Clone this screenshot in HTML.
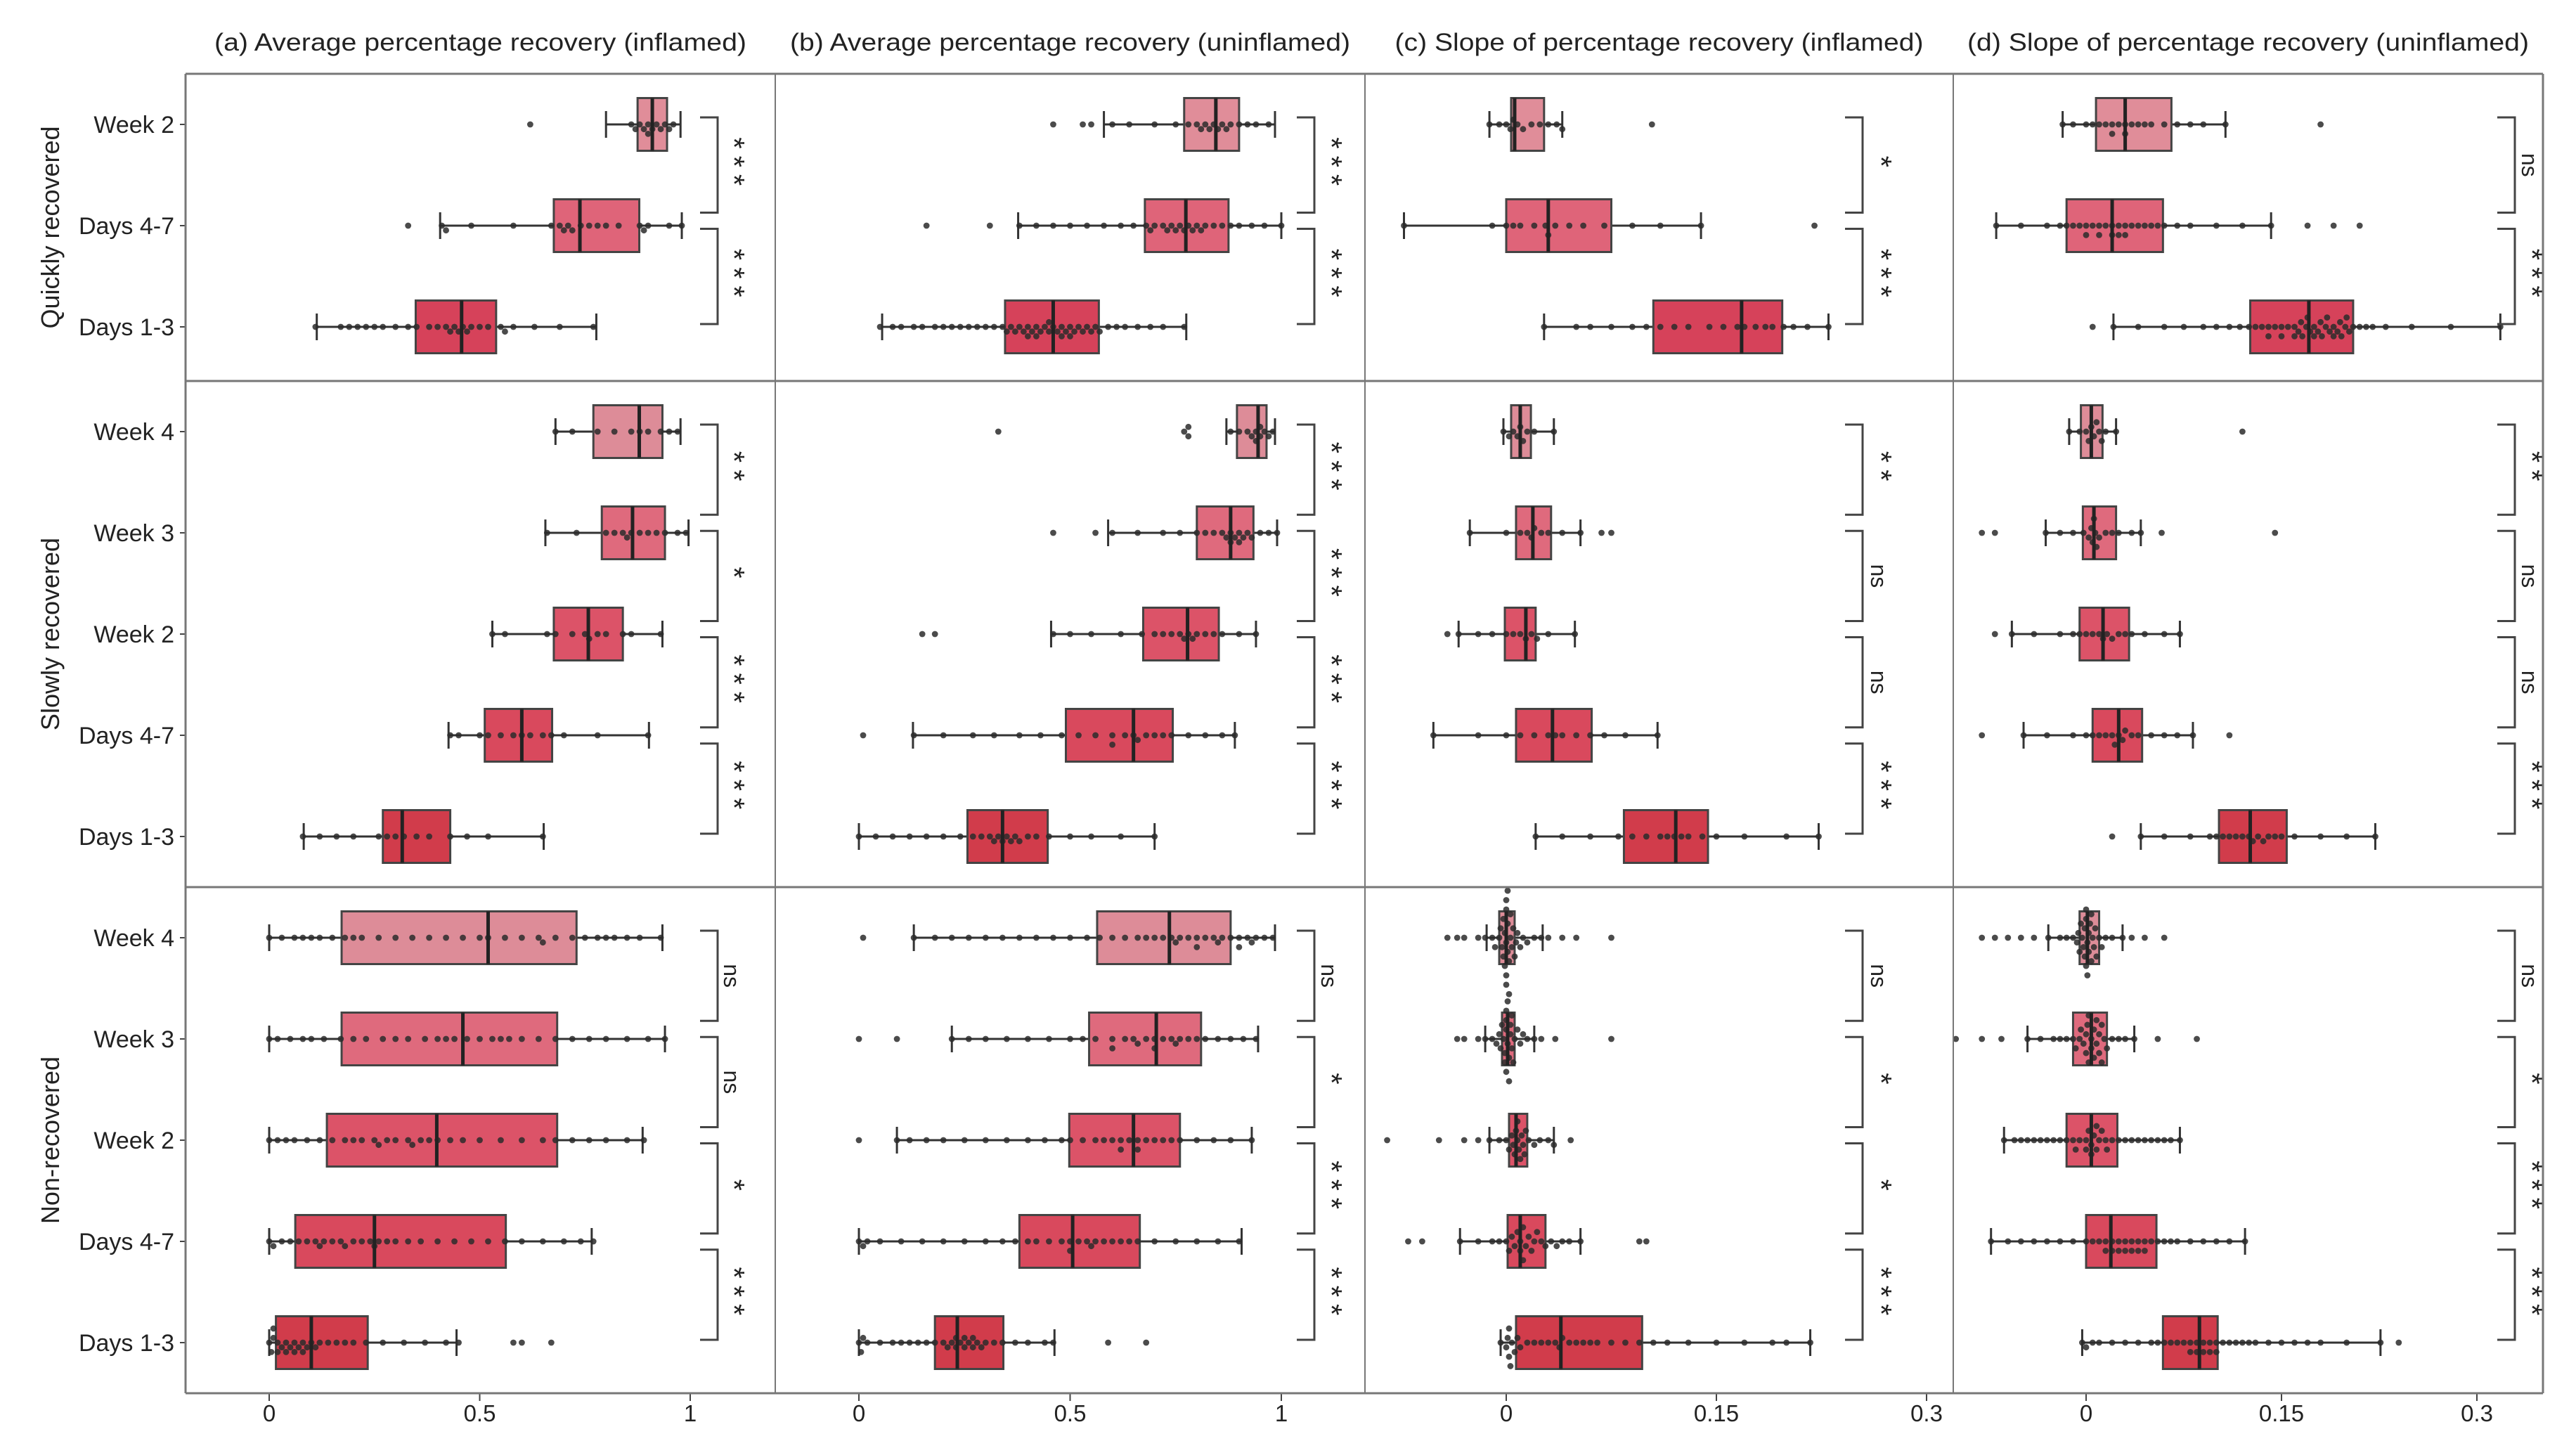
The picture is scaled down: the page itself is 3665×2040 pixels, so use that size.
<!DOCTYPE html>
<html><head><meta charset="utf-8"><style>
html,body{margin:0;padding:0;background:#fff;}
svg{display:block;font-family:"Liberation Sans",sans-serif;}
</style></head><body>
<svg id="chart" width="3665" height="2040" viewBox="0 0 3665 2040" xmlns="http://www.w3.org/2000/svg"></svg>
<script>
// ---- data ----
const panelTitles=["(a) Average percentage recovery (inflamed)","(b) Average percentage recovery (uninflamed)","(c) Slope of percentage recovery (inflamed)","(d) Slope of percentage recovery (uninflamed)"];
const groupNames=["Quickly recovered","Slowly recovered","Non-recovered"];
const quickRows=["Week 2","Days 4-7","Days 1-3"];
const slowRows=["Week 4","Week 3","Week 2","Days 4-7","Days 1-3"];
const nonRows=["Week 4","Week 3","Week 2","Days 4-7","Days 1-3"];
const tickValsAB=[0,0.5,1];
const tickLabelsAB=["0","0.5","1"];
const tickValsCD=[0,0.15,0.3];
const tickLabelsCD=["0","0.15","0.3"];
const sigA=[["***","***"],["**","*","***","***"],["ns","ns","*","***"]];
const sigB=[["***","***"],["***","***","***","***"],["ns","*","***","***"]];
const sigC=[["*","***"],["**","ns","ns","***"],["ns","*","*","***"]];
const sigD=[["ns","***"],["**","ns","ns","***"],["ns","*","***","***"]];
// box stats [lo,q1,median,q3,hi], 13 rows top to bottom
const statsA=[[0.80,0.875,0.91,0.945,0.977],[0.406,0.676,0.738,0.879,0.98],[0.113,0.348,0.457,0.539,0.777],
[0.68,0.77,0.879,0.934,0.977],[0.656,0.79,0.863,0.94,0.996],[0.53,0.676,0.758,0.84,0.934],[0.426,0.512,0.60,0.672,0.902],[0.082,0.27,0.316,0.43,0.652],
[0,0.172,0.52,0.73,0.934],[0,0.172,0.46,0.684,0.94],[0,0.137,0.398,0.684,0.887],[0,0.062,0.25,0.562,0.766],[0,0.016,0.10,0.234,0.445]];
const statsB=[[0.58,0.77,0.845,0.90,0.985],[0.377,0.677,0.774,0.875,1.0],[0.055,0.346,0.46,0.568,0.775],
[0.87,0.895,0.945,0.965,0.985],[0.59,0.80,0.88,0.934,0.99],[0.455,0.673,0.778,0.852,0.94],[0.128,0.49,0.65,0.743,0.89],[0.0,0.257,0.34,0.447,0.70],
[0.13,0.564,0.735,0.88,0.985],[0.22,0.545,0.704,0.81,0.945],[0.09,0.498,0.65,0.76,0.93],[0,0.38,0.506,0.665,0.906],[0,0.18,0.233,0.342,0.463]];
const statsC=[[-0.012,0.0035,0.006,0.027,0.04],[-0.073,0,0.03,0.075,0.139],[0.027,0.105,0.168,0.197,0.23],
[-0.002,0.0035,0.01,0.0176,0.034],[-0.026,0.007,0.019,0.032,0.053],[-0.034,-0.001,0.014,0.021,0.049],[-0.052,0.007,0.033,0.061,0.108],[0.021,0.084,0.121,0.144,0.223],
[-0.014,-0.005,0,0.006,0.026],[-0.015,-0.003,0.001,0.006,0.02],[-0.012,0.002,0.007,0.015,0.034],[-0.033,0.001,0.01,0.028,0.053],[-0.004,0.007,0.039,0.097,0.217]];
const statsD=[[-0.018,0.0076,0.03,0.0655,0.107],[-0.069,-0.015,0.02,0.059,0.142],[0.021,0.126,0.171,0.205,0.318],
[-0.013,-0.004,0.004,0.0126,0.023],[-0.031,-0.0025,0.006,0.023,0.042],[-0.057,-0.005,0.013,0.033,0.072],[-0.048,0.005,0.025,0.043,0.082],[0.042,0.102,0.126,0.154,0.222],
[-0.029,-0.005,0.001,0.01,0.028],[-0.045,-0.01,0.004,0.016,0.037],[-0.063,-0.015,0.004,0.024,0.072],[-0.073,0.0,0.019,0.054,0.122],[-0.003,0.059,0.087,0.101,0.226]];
// swarm points
const ptsA=[[0.62,0.86,0.87,0.89,0.9,0.91,0.92,0.93,0.94,0.95,0.96,0.9,0.88],
[0.33,0.41,0.42,0.48,0.58,0.67,0.69,0.7,0.72,0.76,0.78,0.8,0.83,0.88,0.89,0.9,0.95,0.98,0.71,0.74],
[0.11,0.17,0.19,0.21,0.23,0.25,0.27,0.3,0.33,0.35,0.38,0.4,0.42,0.43,0.45,0.46,0.48,0.5,0.52,0.55,0.56,0.58,0.63,0.69,0.77,0.44,0.47],
[0.68,0.72,0.78,0.82,0.86,0.88,0.9,0.93,0.95,0.97],
[0.66,0.73,0.8,0.82,0.84,0.85,0.86,0.88,0.9,0.92,0.94,0.97,0.99],
[0.53,0.56,0.66,0.68,0.72,0.75,0.76,0.78,0.8,0.84,0.86,0.93],
[0.43,0.45,0.5,0.52,0.55,0.58,0.6,0.62,0.65,0.67,0.7,0.78,0.9],
[0.08,0.12,0.16,0.2,0.26,0.28,0.3,0.32,0.35,0.38,0.43,0.47,0.52,0.65],
[0,0.03,0.06,0.08,0.1,0.12,0.15,0.18,0.22,0.26,0.3,0.34,0.38,0.42,0.46,0.5,0.52,0.56,0.6,0.64,0.68,0.72,0.75,0.78,0.8,0.82,0.85,0.88,0.93,0.2,0.65],
[0,0.02,0.05,0.08,0.1,0.13,0.17,0.2,0.23,0.27,0.3,0.33,0.37,0.4,0.44,0.47,0.5,0.53,0.57,0.6,0.64,0.68,0.72,0.76,0.8,0.85,0.9,0.94,0.42,0.55],
[0,0.02,0.04,0.06,0.09,0.12,0.15,0.18,0.2,0.22,0.25,0.28,0.3,0.33,0.36,0.38,0.4,0.43,0.46,0.5,0.55,0.6,0.65,0.68,0.72,0.76,0.8,0.85,0.89,0.26,0.34],
[0,0.01,0.03,0.05,0.07,0.09,0.11,0.13,0.15,0.17,0.2,0.22,0.24,0.26,0.28,0.3,0.33,0.36,0.4,0.44,0.48,0.52,0.56,0.6,0.65,0.7,0.74,0.77,0.12,0.18,0.25],
[0,0.005,0.01,0.02,0.03,0.04,0.05,0.06,0.07,0.08,0.09,0.1,0.11,0.12,0.14,0.16,0.18,0.2,0.23,0.27,0.32,0.37,0.42,0.45,0.58,0.6,0.67,0.01,0.02,0.04,0.06,0.08]];
const ptsB=[[0.46,0.53,0.55,0.6,0.64,0.7,0.75,0.78,0.8,0.82,0.84,0.85,0.86,0.87,0.88,0.9,0.92,0.94,0.97,0.83,0.81],
[0.16,0.31,0.38,0.42,0.46,0.5,0.54,0.58,0.62,0.65,0.68,0.7,0.72,0.74,0.76,0.77,0.78,0.8,0.82,0.84,0.86,0.88,0.9,0.93,0.96,1.0,0.73,0.75,0.79,0.81,0.69],
[0.05,0.08,0.1,0.13,0.15,0.18,0.2,0.22,0.24,0.26,0.28,0.3,0.32,0.34,0.35,0.36,0.37,0.38,0.39,0.4,0.41,0.42,0.43,0.44,0.45,0.46,0.47,0.48,0.49,0.5,0.51,0.52,0.53,0.54,0.55,0.56,0.57,0.59,0.61,0.63,0.66,0.69,0.72,0.77,0.4,0.45,0.5,0.42,0.48],
[0.33,0.77,0.78,0.78,0.88,0.9,0.92,0.93,0.94,0.95,0.96,0.97,0.98,0.95,0.94],
[0.46,0.56,0.6,0.66,0.72,0.76,0.8,0.82,0.84,0.86,0.87,0.88,0.89,0.9,0.91,0.92,0.93,0.95,0.97,0.99,0.88,0.9],
[0.15,0.18,0.46,0.5,0.55,0.62,0.67,0.7,0.72,0.74,0.76,0.78,0.8,0.82,0.84,0.86,0.9,0.94,0.77,0.79],
[0.01,0.13,0.2,0.27,0.32,0.38,0.43,0.48,0.52,0.56,0.6,0.63,0.66,0.68,0.7,0.72,0.74,0.78,0.82,0.86,0.89,0.65,0.6],
[0,0.04,0.08,0.12,0.16,0.2,0.24,0.27,0.29,0.31,0.33,0.34,0.35,0.36,0.38,0.4,0.42,0.45,0.5,0.55,0.62,0.7,0.32,0.37],
[0.01,0.13,0.18,0.22,0.26,0.3,0.34,0.38,0.42,0.46,0.5,0.54,0.57,0.6,0.63,0.66,0.68,0.7,0.72,0.74,0.76,0.78,0.8,0.82,0.84,0.86,0.88,0.9,0.92,0.94,0.96,0.98,0.75,0.8,0.85,0.9,0.93],
[0,0.09,0.22,0.26,0.3,0.35,0.4,0.45,0.5,0.53,0.56,0.6,0.63,0.66,0.68,0.7,0.72,0.74,0.76,0.78,0.8,0.82,0.85,0.88,0.91,0.94,0.7,0.65,0.75,0.6],
[0,0.09,0.12,0.16,0.2,0.25,0.3,0.35,0.4,0.44,0.48,0.5,0.53,0.56,0.58,0.6,0.62,0.64,0.66,0.68,0.7,0.72,0.74,0.76,0.8,0.84,0.88,0.93,0.62,0.66],
[0,0.01,0.02,0.05,0.1,0.15,0.2,0.25,0.3,0.34,0.37,0.4,0.42,0.45,0.48,0.5,0.52,0.54,0.56,0.58,0.6,0.62,0.64,0.66,0.7,0.75,0.8,0.85,0.9,0.5,0.55],
[0,0.005,0.01,0.02,0.05,0.08,0.1,0.12,0.14,0.16,0.18,0.2,0.21,0.22,0.23,0.24,0.25,0.26,0.27,0.28,0.29,0.3,0.32,0.34,0.37,0.4,0.44,0.46,0.59,0.68,0.23,0.25,0.27]];
const ptsC=[[-0.012,-0.005,0,0.003,0.005,0.008,0.012,0.018,0.024,0.03,0.036,0.04,0.104],
[-0.073,-0.01,0,0.005,0.01,0.02,0.028,0.03,0.035,0.045,0.055,0.07,0.09,0.11,0.139,0.22],
[0.027,0.05,0.06,0.075,0.09,0.1,0.11,0.12,0.13,0.145,0.155,0.165,0.17,0.178,0.185,0.19,0.198,0.205,0.215,0.23],
[-0.002,0.002,0.005,0.008,0.01,0.012,0.015,0.02,0.034],
[-0.026,0.0,0.01,0.015,0.018,0.02,0.025,0.03,0.04,0.053,0.068,0.075],
[-0.042,-0.034,-0.02,-0.01,0,0.005,0.01,0.014,0.018,0.022,0.03,0.049],
[-0.052,-0.02,0,0.01,0.02,0.03,0.035,0.04,0.05,0.06,0.07,0.085,0.108],
[0.021,0.04,0.06,0.08,0.09,0.1,0.11,0.115,0.12,0.125,0.13,0.14,0.15,0.17,0.2,0.223],
[-0.042,-0.035,-0.03,-0.02,-0.015,-0.01,-0.008,-0.005,-0.004,-0.003,-0.002,-0.001,0,0,0,0.001,0.002,0.003,0.004,0.005,0.006,0.007,0.008,0.01,0.012,0.015,0.02,0.025,0.03,0.04,0.05,0.075,0,0.001,-0.001,0.002,-0.002,0.003,0.0,0.001],
[-0.035,-0.03,-0.02,-0.015,-0.01,-0.007,-0.005,-0.004,-0.003,-0.002,-0.001,0,0,0,0.001,0.002,0.003,0.004,0.005,0.006,0.008,0.01,0.012,0.015,0.02,0.025,0.035,0.075,0.001,0.002,0,0.003,-0.001,0.004],
[-0.085,-0.048,-0.03,-0.02,-0.012,-0.005,0,0.002,0.004,0.006,0.007,0.008,0.009,0.01,0.012,0.014,0.016,0.02,0.024,0.03,0.034,0.046,0.005,0.008,0.011,0.013],
[-0.07,-0.06,-0.033,-0.02,-0.01,-0.005,0,0.002,0.004,0.006,0.008,0.01,0.012,0.014,0.016,0.018,0.02,0.022,0.025,0.028,0.032,0.036,0.04,0.045,0.053,0.095,0.1,0.01,0.012],
[-0.004,0,0.001,0.002,0.004,0.006,0.008,0.01,0.015,0.02,0.025,0.03,0.035,0.038,0.04,0.045,0.05,0.055,0.06,0.065,0.075,0.085,0.095,0.105,0.115,0.13,0.15,0.17,0.19,0.2,0.217,0.002,0.003]];
const ptsD=[[-0.018,-0.01,0,0.005,0.01,0.015,0.02,0.025,0.03,0.035,0.04,0.045,0.05,0.06,0.07,0.08,0.09,0.107,0.18,0.03,0.02],
[-0.069,-0.05,-0.03,-0.02,-0.015,-0.01,-0.005,0,0.005,0.01,0.015,0.02,0.025,0.03,0.035,0.04,0.045,0.05,0.055,0.06,0.07,0.08,0.1,0.12,0.142,0.17,0.19,0.21,0.02,0.01,0.03,0.0,0.025],
[0.005,0.021,0.04,0.06,0.075,0.09,0.1,0.11,0.118,0.125,0.13,0.135,0.14,0.145,0.15,0.155,0.16,0.163,0.166,0.169,0.172,0.175,0.178,0.181,0.184,0.187,0.19,0.193,0.196,0.199,0.202,0.205,0.21,0.215,0.22,0.23,0.25,0.28,0.318,0.17,0.175,0.18,0.185,0.19,0.16,0.165,0.195,0.2,0.15,0.14],
[-0.013,-0.005,0,0.002,0.004,0.006,0.008,0.01,0.012,0.015,0.023,0.12],
[-0.08,-0.07,-0.031,-0.02,-0.01,-0.002,0.002,0.004,0.006,0.008,0.01,0.015,0.02,0.025,0.035,0.042,0.058,0.145,0.005,0.007],
[-0.07,-0.057,-0.04,-0.02,-0.01,-0.005,0,0.005,0.01,0.013,0.016,0.02,0.025,0.03,0.035,0.045,0.06,0.072],
[-0.08,-0.048,-0.03,-0.01,0,0.005,0.01,0.015,0.02,0.025,0.03,0.035,0.04,0.05,0.06,0.07,0.082,0.11,0.022,0.028],
[0.02,0.042,0.06,0.08,0.095,0.1,0.105,0.11,0.115,0.12,0.125,0.128,0.132,0.136,0.14,0.145,0.15,0.16,0.18,0.2,0.222],
[-0.08,-0.07,-0.06,-0.05,-0.04,-0.029,-0.02,-0.015,-0.01,-0.007,-0.005,-0.003,-0.001,0,0,0.001,0.002,0.003,0.004,0.005,0.006,0.008,0.01,0.012,0.015,0.02,0.028,0.035,0.045,0.06,0,0.001,-0.001,0.002,-0.002,0.004,-0.004,0.007,-0.006],
[-0.1,-0.08,-0.065,-0.045,-0.035,-0.025,-0.02,-0.015,-0.01,-0.005,-0.002,0,0.002,0.004,0.006,0.008,0.01,0.012,0.014,0.016,0.02,0.025,0.03,0.037,0.055,0.085,0.004,0.006,0,0.002,0.008,0.01,-0.004,-0.008,0.012,0.001],
[-0.063,-0.055,-0.05,-0.045,-0.04,-0.035,-0.03,-0.025,-0.02,-0.015,-0.01,-0.005,0,0.002,0.004,0.006,0.008,0.01,0.015,0.02,0.025,0.03,0.035,0.04,0.045,0.05,0.055,0.06,0.065,0.072,0.0,0.004,0.008,-0.008,0.012,0.016],
[-0.073,-0.06,-0.05,-0.04,-0.03,-0.02,-0.01,0,0.005,0.01,0.015,0.02,0.025,0.03,0.035,0.04,0.045,0.05,0.055,0.06,0.065,0.07,0.08,0.09,0.1,0.11,0.122,0.02,0.025,0.03,0.04,0.015,0.035,0.045],
[-0.003,0.0,0.005,0.01,0.02,0.03,0.04,0.05,0.055,0.06,0.065,0.07,0.075,0.08,0.085,0.09,0.095,0.1,0.105,0.11,0.115,0.12,0.125,0.13,0.14,0.15,0.16,0.17,0.18,0.2,0.226,0.24,0.08,0.09,0.1,0.085,0.095]];

// ---- layout ----
const NS="http://www.w3.org/2000/svg";
const svg=document.getElementById('chart');
function mk(tag,attrs,parent){const e=document.createElementNS(NS,tag);for(const k in attrs)e.setAttribute(k,attrs[k]);(parent||svg).appendChild(e);return e;}
const panelX=[264,1103,1942,2779,3618];
const groupY=[105,542,1262,1982];
const rowSpacing=144;
const groupRows=[quickRows,slowRows,nonRows];
const panels=[
 {stats:statsA,pts:ptsA,sig:sigA,x0:383,x1:982,vmax:1,ticks:tickValsAB,tl:tickLabelsAB,brX:1021,labX:1030},
 {stats:statsB,pts:ptsB,sig:sigB,x0:1222,x1:1823,vmax:1,ticks:tickValsAB,tl:tickLabelsAB,brX:1870,labX:1880},
 {stats:statsC,pts:ptsC,sig:sigC,x0:2143,x1:2741,vmax:0.3,ticks:tickValsCD,tl:tickLabelsCD,brX:2650,labX:2662},
 {stats:statsD,pts:ptsD,sig:sigD,x0:2968,x1:3524,vmax:0.3,ticks:tickValsCD,tl:tickLabelsCD,brX:3578,labX:3588}];
const palQuick=['#e08d99','#df6479','#d6425a'];
const palFive=['#dd8c98','#df6a7d','#dc5368','#d9495d','#d13c4b'];
const boxH=75, capH=38, dotR=4.4;
function rowCenters(g){return groupRows[g].map((_,k)=>groupY[g]+72+rowSpacing*k);}

// titles
panelTitles.forEach((t,p)=>{
 const e=mk('text',{x:(panelX[p]+panelX[p+1])/2,y:72,'text-anchor':'middle','font-size':35,fill:'#222',textLength:[757,797,752,799][p],lengthAdjust:'spacingAndGlyphs'});
 e.textContent=t;
 
 
});
// group labels and row labels
groupNames.forEach((gn,g)=>{
 const cy=(groupY[g]+groupY[g+1])/2;
 const e=mk('text',{x:0,y:0,transform:`translate(84,${cy}) rotate(-90)`,'text-anchor':'middle','font-size':36,fill:'#222'});
 e.textContent=gn;
 
 
 const cs=rowCenters(g);
 groupRows[g].forEach((r,k)=>{
  const t=mk('text',{x:248,y:cs[k]+12,'text-anchor':'end','font-size':34,fill:'#222'});
  t.textContent=r;
  
  
  mk('line',{x1:256,x2:264,y1:cs[k],y2:cs[k],stroke:'#444','stroke-width':2});
 });
});

panels.forEach((P,p)=>{
 const sx=v=>P.x0+(v/P.vmax)*(P.x1-P.x0);
 const pg=mk('g',{});
 
 
 let idx=0;
 for(let g=0;g<3;g++){
  const cs=rowCenters(g);
  const pal=g===0?palQuick:palFive;
  groupRows[g].forEach((r,k)=>{
   const s=P.stats[idx], pts=P.pts[idx], cy=cs[k];
   const bg=mk('g',{},pg);
   
   
   mk('line',{x1:sx(s[0]),x2:sx(s[1]),y1:cy,y2:cy,stroke:'#333','stroke-width':3},bg);
   mk('line',{x1:sx(s[3]),x2:sx(s[4]),y1:cy,y2:cy,stroke:'#333','stroke-width':3},bg);
   mk('line',{x1:sx(s[0]),x2:sx(s[0]),y1:cy-capH/2,y2:cy+capH/2,stroke:'#333','stroke-width':3},bg);
   mk('line',{x1:sx(s[4]),x2:sx(s[4]),y1:cy-capH/2,y2:cy+capH/2,stroke:'#333','stroke-width':3},bg);
   mk('rect',{x:sx(s[1]),y:cy-boxH/2,width:Math.max(1,sx(s[3])-sx(s[1])),height:boxH,fill:pal[k],stroke:'#444','stroke-width':3},bg);
   const sorted=pts.slice().sort((a,b)=>a-b);
   const placed=[];const d=dotR*2*0.95;
   sorted.forEach(v=>{
    const x=sx(v);let off=0;
    for(let n=0;n<60;n++){
     const cand=n===0?0:(n%2?1:-1)*Math.ceil(n/2)*d*0.8;
     if(placed.every(q=>Math.hypot(q[0]-x,q[1]-cand)>=d)){off=cand;break;}
    }
    placed.push([x,off]);
    mk('circle',{cx:x,cy:cy+off,r:dotR,fill:'#2b2b2b','fill-opacity':0.85},bg);
   });
   mk('line',{x1:sx(s[2]),x2:sx(s[2]),y1:cy-boxH/2,y2:cy+boxH/2,stroke:'#222','stroke-width':5},bg);
   idx++;
  });
  const n=cs.length, top=cs[0]-10, bot=cs[n-1]-4, gap=23, seg=(bot-top-gap*(n-2))/(n-1);
  P.sig[g].forEach((lab,j)=>{
   const y1=top+j*(seg+gap), y2=y1+seg;
   const br=mk('path',{d:`M${P.brX-25},${y1} H${P.brX} V${y2} H${P.brX-25}`,fill:'none',stroke:'#444','stroke-width':3},pg);
   
   
   const t=mk('text',{x:0,y:0,transform:`translate(${P.labX},${(y1+y2)/2}) rotate(90)`,'text-anchor':'middle','font-size':lab==='ns'?32:42,fill:'#222','letter-spacing':lab==='ns'?0:10},pg);
   t.textContent=lab;
   
   
  });
 }
 P.ticks.forEach((v,i)=>{
  mk('line',{x1:sx(v),x2:sx(v),y1:1982,y2:1993,stroke:'#444','stroke-width':2},pg);
  const t=mk('text',{x:sx(v),y:2022,'text-anchor':'middle','font-size':33,fill:'#222'},pg);
  t.textContent=P.tl[i];
  
  
 });
});
for(let i=0;i<5;i++) mk('line',{x1:panelX[i],x2:panelX[i],y1:groupY[0],y2:groupY[3],stroke:'#777','stroke-width':i===0||i===4?3:2});
for(let j=0;j<4;j++) mk('line',{x1:panelX[0],x2:panelX[4],y1:groupY[j],y2:groupY[j],stroke:'#777','stroke-width':3});
</script>
</body></html>
